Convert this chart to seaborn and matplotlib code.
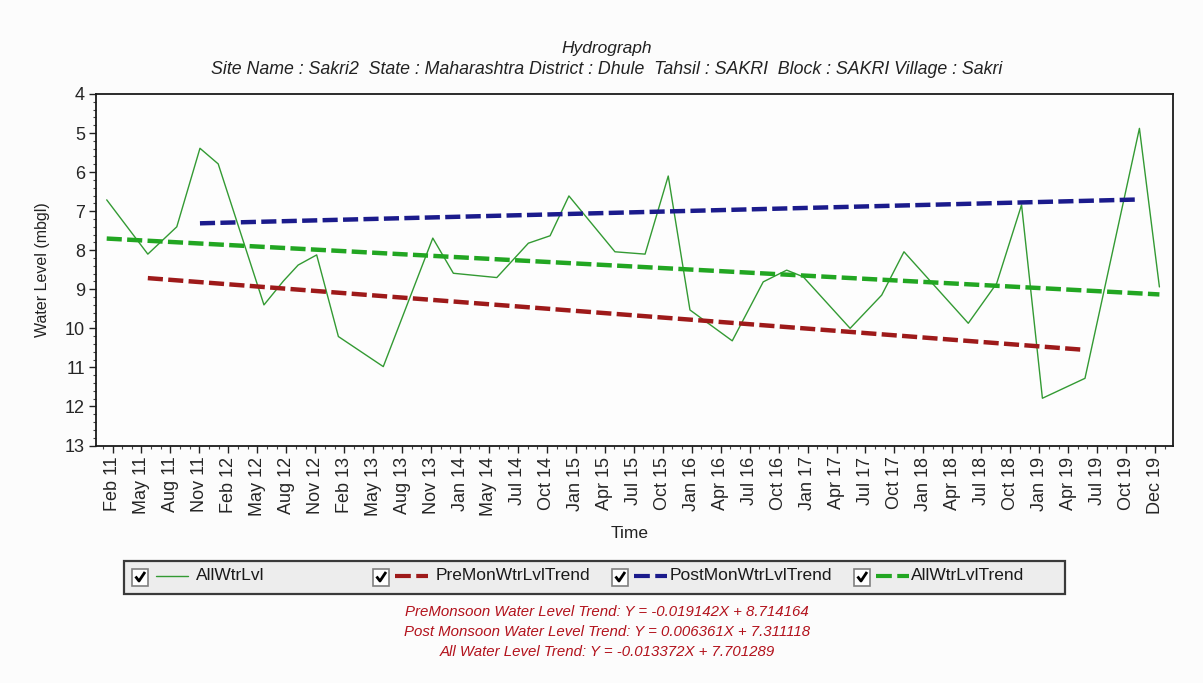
import matplotlib
matplotlib.use("Agg")
import matplotlib.pyplot as plt
from matplotlib.ticker import AutoMinorLocator, FixedLocator, MultipleLocator
from matplotlib.patches import Rectangle
import numpy as np
import pandas as pd
import seaborn as sns

# ---- data -------------------------------------------------------------
tick_labels = ["Feb 11", "May 11", "Aug 11", "Nov 11", "Feb 12", "May 12",
               "Aug 12", "Nov 12", "Feb 13", "May 13", "Aug 13", "Nov 13",
               "Jan 14", "May 14", "Jul 14", "Oct 14", "Jan 15", "Apr 15",
               "Jul 15", "Oct 15", "Jan 16", "Apr 16", "Jul 16", "Oct 16",
               "Jan 17", "Apr 17", "Jul 17", "Oct 17", "Jan 18", "Apr 18",
               "Jul 18", "Oct 18", "Jan 19", "Apr 19", "Jul 19", "Oct 19",
               "Dec 19"]

# observation time, in units of the time-axis label slots
obs_pos = [-0.20, 1.22, 2.22, 3.02, 3.65, 5.23, 5.90, 6.41, 7.05, 7.80,
           9.35, 11.06, 11.77, 13.27, 14.36, 15.11, 15.76, 17.35, 18.39,
           19.19, 19.94, 21.40, 22.47, 23.28, 23.85, 25.47, 26.56, 27.33,
           29.55, 30.53, 31.39, 32.11, 33.58, 35.46, 36.15]
# water level below ground (m)
obs_level = [6.71, 8.10, 7.40, 5.39, 5.79, 9.40, 8.79, 8.38, 8.12, 10.21,
             10.98, 7.69, 8.59, 8.70, 7.82, 7.63, 6.61, 8.04, 8.10,
             6.10, 9.53, 10.32, 8.81, 8.51, 8.68, 10.00, 9.15, 8.04,
             9.87, 8.85, 6.84, 11.79, 11.28, 4.88, 8.94]

trend_names = ["PreMonWtrLvlTrend", "PostMonWtrLvlTrend", "AllWtrLvlTrend"]
trend_titles = ["PreMonsoon Water Level Trend", "Post Monsoon Water Level Trend",
                "All Water Level Trend"]
trend_slope = [-0.019142, 0.006361, -0.013372]
trend_intercept = [8.714164, 7.311118, 7.701289]
trend_first_obs = [1, 3, 0]
trend_last_obs = [32, 33, 34]
trend_span_months = [96, 96, 107]

site_info = ("Site Name : Sakri2  State : Maharashtra District : Dhule  "
             "Tahsil : SAKRI  Block : SAKRI Village : Sakri")

# ---- style ------------------------------------------------------------
sns.set_style("white")
plt.rcParams["font.family"] = ["Liberation Sans", "DejaVu Sans"]

W, H = 1203, 683
fig = plt.figure(figsize=(W / 100, H / 100), dpi=100, facecolor="#fcfcfc")

def fx(px):
    return px / W

def fy(py):
    return 1 - py / H

ax_l, ax_r, ax_t, ax_b = 96, 1173, 94, 445.5
ax = fig.add_axes([fx(ax_l), fy(ax_b), fx(ax_r) - fx(ax_l), fy(ax_t) - fy(ax_b)])
ax.set_facecolor("#fdfdfd")

data_color = "#339a33"
trend_colors = ["#9e1a1a", "#1b1b8c", "#22a622"]
dash_pattern = (3.4, 1.2)

obs_df = pd.DataFrame({"pos": obs_pos, "level": obs_level})
sns.lineplot(data=obs_df, x="pos", y="level", ax=ax, color=data_color,
             linewidth=1.0, sort=False, zorder=3)

# trend lines: the equations use the software's sign convention,
# drawn depth = intercept - slope * months elapsed
for name, m, b, i0, i1, span, col in zip(trend_names, trend_slope, trend_intercept,
                                         trend_first_obs, trend_last_obs,
                                         trend_span_months, trend_colors):
    months = np.array([0, span])
    tdf = pd.DataFrame({"pos": [obs_pos[i0], obs_pos[i1]],
                        "level": b - m * months})
    sns.lineplot(data=tdf, x="pos", y="level", ax=ax, color=col,
                 linewidth=3.2, zorder=4)
    ln = ax.lines[-1]
    ln.set_dashes(dash_pattern)
    ln.set_dash_capstyle("butt")

# ---- axes -------------------------------------------------------------
slot = 28.96
x_first = 112.5
ax.set_xlim((ax_l - x_first) / slot, (ax_r - x_first) / slot)
ax.set_ylim(13, 4)
ax.xaxis.set_major_locator(FixedLocator(np.arange(len(tick_labels))))
ax.set_xticklabels(tick_labels, rotation=90, fontsize=13)
ax.xaxis.set_minor_locator(AutoMinorLocator(3))
ax.yaxis.set_major_locator(MultipleLocator(1))
ax.yaxis.set_minor_locator(AutoMinorLocator(5))
ax.tick_params(axis="y", labelsize=13, length=5, width=1, pad=3, color="#222222")
ax.tick_params(axis="x", length=5, width=1, pad=3, color="#222222")
ax.tick_params(which="minor", length=2.5, width=0.8, color="#444444",
               bottom=True, left=True)
ax.tick_params(which="major", bottom=True, left=True)
for s in ax.spines.values():
    s.set_visible(True)
    s.set_color("#1a1a1a")
    s.set_linewidth(1.3)

ax.set_xlabel("Time", fontsize=12.5, color="#222222")
ax.xaxis.set_label_coords((630 - ax_l) / (ax_r - ax_l),
                          -(526 - ax_b) / (ax_b - ax_t))
ax.set_ylabel("Water Level (mbgl)", fontsize=11.5, color="#222222")
ax.yaxis.set_label_coords((50 - ax_l) / (ax_r - ax_l), 0.5)

# ---- titles -----------------------------------------------------------
cx = fx(607)
fig.text(cx, fy(48), "Hydrograph", ha="center", va="center",
         fontsize=12.5, style="italic", color="#222222")
fig.text(cx, fy(69), site_info, ha="center", va="center",
         fontsize=12.8, style="italic", color="#222222")

# ---- legend bar -------------------------------------------------------
lax = fig.add_axes([0, 0, 1, 1], zorder=5)
lax.set_xlim(0, W)
lax.set_ylim(H, 0)
lax.axis("off")
lax.add_patch(Rectangle((124, 561), 941, 33, facecolor="#ededed",
                        edgecolor="#3a3a3a", linewidth=1.6))

legend_cb_x = [132, 373, 612, 854]
legend_text_x = [196, 436, 670, 911]
legend_labels = ["AllWtrLvl"] + trend_names
legend_colors = [data_color] + trend_colors
ly = 577
for k, (cbx, tx, lab, col) in enumerate(zip(legend_cb_x, legend_text_x,
                                               legend_labels, legend_colors)):
    lax.add_patch(Rectangle((cbx, ly - 8.5), 16, 17, facecolor="white",
                            edgecolor="#808080", linewidth=1.2))
    lax.plot([cbx + 3.5, cbx + 7, cbx + 13], [ly - 0.5, ly + 4, ly - 5],
             color="black", linewidth=2.0, solid_capstyle="butt")
    if k == 0:
        lax.plot([cbx + 24, cbx + 56], [ly - 1, ly - 1], color=col, linewidth=1.0)
    else:
        seg = lax.plot([cbx + 22, cbx + 55], [ly - 1, ly - 1], color=col,
                       linewidth=3.0)[0]
        seg.set_dashes((3.8, 1.3))
        seg.set_dash_capstyle("butt")
    lax.text(tx, ly - 1, lab, ha="left", va="center", fontsize=12.5,
             color="#1a1a1a")

# ---- trend equations --------------------------------------------------
eq_color = "#b3121c"
for j, (title, m, b) in enumerate(zip(trend_titles, trend_slope, trend_intercept)):
    eq = f"{title}: Y = {m:.6f}X + {b:.6f}"
    fig.text(fx(607), fy(612 + 20 * j), eq, ha="center", va="center",
             fontsize=10.8, style="italic", color=eq_color)

fig.savefig("out.png", dpi=100, facecolor=fig.get_facecolor())
